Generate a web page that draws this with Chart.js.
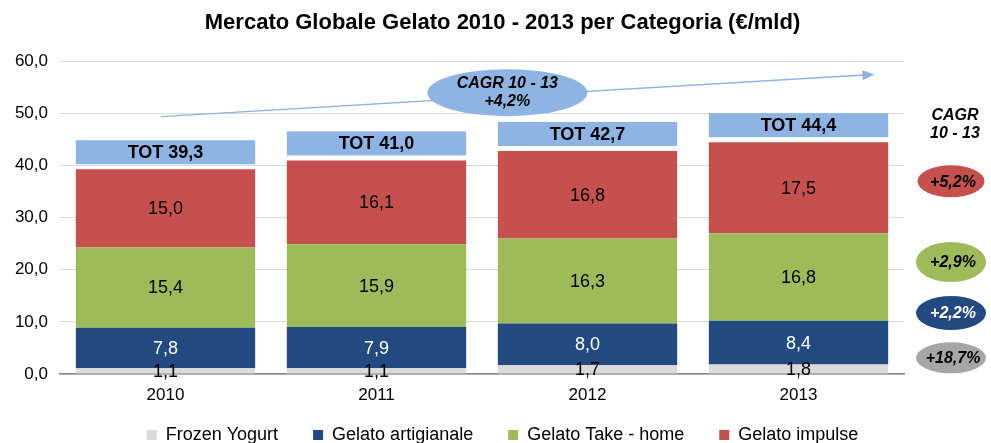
<!DOCTYPE html>
<html><head><meta charset="utf-8">
<script src="https://cdn.jsdelivr.net/npm/chart.js@4.4.1/dist/chart.umd.min.js"></script>
<style>html,body{margin:0;padding:0;background:#fff}canvas{display:block}</style>
</head><body>
<canvas id="c" width="991" height="443"></canvas>
<script>
// ---- data ----
const categories = ['2010', '2011', '2012', '2013'];
const seriesNames = ['Frozen Yogurt', 'Gelato artigianale', 'Gelato Take - home', 'Gelato impulse'];
const frozenYogurt = [1.1, 1.1, 1.7, 1.8];
const gelatoArtigianale = [7.8, 7.9, 8.0, 8.4];
const gelatoTakeHome = [15.4, 15.9, 16.3, 16.8];
const gelatoImpulse = [15.0, 16.1, 16.8, 17.5];
const totals = [39.3, 41.0, 42.7, 44.4];
const cagrBySeries = ['+18,7%', '+2,2%', '+2,9%', '+5,2%'];
const cagrTotal = '+4,2%';
const cagrLabel = 'CAGR 10 - 13';
const yTickMin = 0, yTickMax = 60, yTickStep = 10;
const chartTitle = 'Mercato Globale Gelato 2010 - 2013 per Categoria (€/mld)';

// ---- style ----
const FONT = '"Liberation Sans", Arial, sans-serif';
const colors = ['#DCD9DC', '#224A80', '#9DBB59', '#C6504E'];
const labelColors = ['#000', '#fff', '#000', '#000'];
const ellipseColors = ['#A6A6A6', '#224A80', '#9DBB59', '#C6504E'];
const ellipseText = ['#000', '#fff', '#000', '#000'];
const boxBlue = '#8DB4E2';
const fmt = v => v.toFixed(1).replace('.', ',');

const seriesValues = [frozenYogurt, gelatoArtigianale, gelatoTakeHome, gelatoImpulse];

function ellipse(ctx, cx, cy, rx, ry, fill) {
  ctx.beginPath();
  ctx.ellipse(cx, cy, rx, ry, 0, 0, Math.PI * 2);
  ctx.fillStyle = fill;
  ctx.fill();
}

const overlay = {
  id: 'overlay',
  afterDatasetsDraw(chart) {
    const ctx = chart.ctx, xs = chart.scales.x, ys = chart.scales.y, area = chart.chartArea;
    ctx.save();
    ctx.textAlign = 'center';
    ctx.textBaseline = 'middle';

    // segment value labels
    chart.data.datasets.forEach((ds, di) => {
      chart.getDatasetMeta(di).data.forEach((bar, i) => {
        const p = bar.getProps(['x', 'y', 'base'], true);
        ctx.font = '18px ' + FONT;
        ctx.fillStyle = labelColors[di];
        ctx.fillText(fmt(ds.data[i]), p.x, (p.y + p.base) / 2 + 1);
      });
    });

    // TOT boxes above each stack
    const topMeta = chart.getDatasetMeta(chart.data.datasets.length - 1);
    topMeta.data.forEach((bar, i) => {
      const p = bar.getProps(['x', 'y', 'width'], true);
      const bottom = p.y - 5, h = 24;
      ctx.fillStyle = boxBlue;
      ctx.fillRect(p.x - p.width / 2, bottom - h, p.width, h);
      ctx.fillStyle = '#000';
      ctx.font = 'bold 18px ' + FONT;
      ctx.fillText('TOT ' + fmt(totals[i]), p.x, bottom - h / 2 + 1);
    });

    // growth arrow
    const x0 = xs.getPixelForValue(-0.02), y0 = ys.getPixelForValue(49.4);
    const x1 = xs.getPixelForValue(3.36), y1 = ys.getPixelForValue(57.5);
    const ang = Math.atan2(y1 - y0, x1 - x0);
    ctx.strokeStyle = boxBlue;
    ctx.lineWidth = 1.5;
    ctx.beginPath();
    ctx.moveTo(x0, y0);
    ctx.lineTo(x1 - 10 * Math.cos(ang), y1 - 10 * Math.sin(ang));
    ctx.stroke();
    ctx.beginPath();
    ctx.moveTo(x1, y1);
    ctx.lineTo(x1 - 12 * Math.cos(ang) + 5 * Math.sin(ang), y1 - 12 * Math.sin(ang) - 5 * Math.cos(ang));
    ctx.lineTo(x1 - 12 * Math.cos(ang) - 5 * Math.sin(ang), y1 - 12 * Math.sin(ang) + 5 * Math.cos(ang));
    ctx.closePath();
    ctx.fillStyle = boxBlue;
    ctx.fill();

    // CAGR ellipse on arrow
    const ex = xs.getPixelForValue(1.62), ey = ys.getPixelForValue(54.0);
    ellipse(ctx, ex, ey, 80, 23.5, boxBlue);
    ctx.fillStyle = '#000';
    ctx.font = 'italic bold 16px ' + FONT;
    ctx.fillText(cagrLabel, ex, ey - 9);
    ctx.fillText(cagrTotal, ex, ey + 9);

    // right side CAGR column
    const rx = area.right + 43;
    ctx.font = 'italic bold 16px ' + FONT;
    ctx.fillStyle = '#000';
    ctx.fillText('CAGR', rx + 8, ys.getPixelForValue(49.6));
    ctx.fillText('10 - 13', rx + 8, ys.getPixelForValue(46.2));
    const anchors = [3.1, 11.7, 21.5, 37.0];
    const radii = [[35, 15.5], [35, 17], [35, 20], [33.5, 16]];
    anchors.forEach((v, i) => {
      const cy = ys.getPixelForValue(v);
      ellipse(ctx, rx + 4, cy, radii[i][0], radii[i][1], ellipseColors[i]);
      ctx.fillStyle = ellipseText[i];
      ctx.font = 'italic bold 16px ' + FONT;
      ctx.fillText(cagrBySeries[i], rx + 6, cy + 1);
    });
    ctx.restore();
  }
};

new Chart(document.getElementById('c'), {
  type: 'bar',
  data: {
    labels: categories,
    datasets: seriesNames.map((name, i) => ({
      label: name,
      data: seriesValues[i],
      backgroundColor: colors[i],
      borderWidth: 0,
      categoryPercentage: 1.0,
      barPercentage: 0.85
    }))
  },
  options: {
    responsive: false,
    animation: false,
    devicePixelRatio: 1,
    layout: { padding: { left: 14, right: 0, top: 0, bottom: -11 } },
    plugins: {
      title: {
        display: true, text: chartTitle, color: '#000',
        font: { family: FONT, size: 22, weight: 'bold' },
        padding: { top: 10, bottom: 25 }
      },
      legend: {
        position: 'bottom',
        labels: {
          color: '#000', boxWidth: 10, boxHeight: 10, padding: 20,
          font: { family: FONT, size: 18 },
          generateLabels: chart => {
            const items = Chart.defaults.plugins.legend.labels.generateLabels(chart);
            items.forEach((it, i) => { if (i < items.length - 1) it.text = it.text + '   '; });
            return items;
          }
        }
      },
      tooltip: { enabled: false }
    },
    scales: {
      x: {
        stacked: true,
        grid: { display: true, drawOnChartArea: false, drawTicks: true, tickLength: 5, offset: false, color: '#868686' },
        border: { display: true, color: '#868686', width: 1.5 },
        ticks: { color: '#000', font: { family: FONT, size: 17 }, padding: 6 },
        afterFit: s => { s.height = 32; }
      },
      y: {
        stacked: true,
        min: yTickMin, max: yTickMax,
        grid: { color: '#D9D9D9', drawTicks: false },
        border: { display: false },
        ticks: { stepSize: yTickStep, color: '#000', font: { family: FONT, size: 17 }, padding: 12, callback: v => fmt(v) },
        afterFit: s => { s.width = 46; }
      },
      yR: {
        position: 'right', display: true,
        grid: { display: false, drawTicks: false },
        border: { display: false },
        ticks: { display: false },
        afterFit: s => { s.width = 87; }
      }
    }
  },
  plugins: [overlay]
});
</script>
</body></html>
